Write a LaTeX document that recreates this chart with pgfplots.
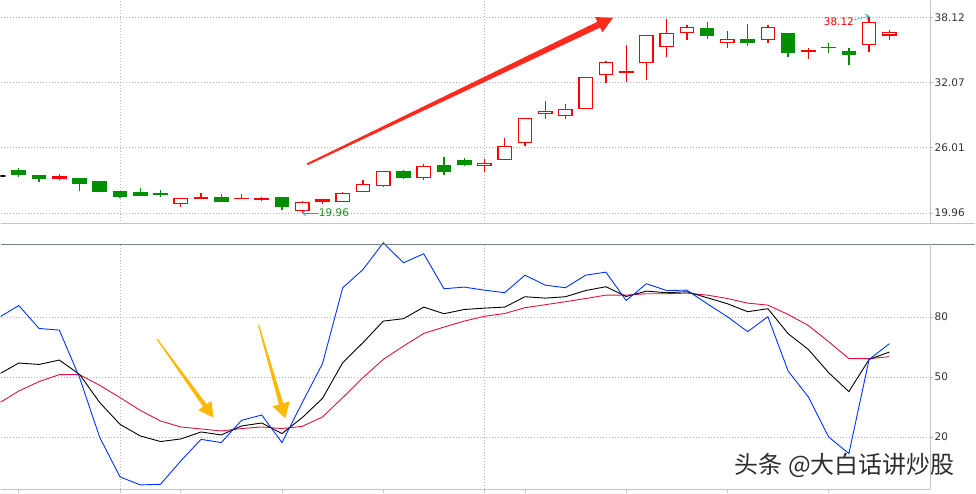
\documentclass[border=0pt]{standalone}
\usepackage{fontspec}
\setmainfont{DejaVu Sans}
\newfontfamily\cjk{Noto Sans CJK SC}
\usepackage{pgfplots}
\pgfplotsset{compat=1.18}
\usepackage{pgfplotstable}
\usepgfplotslibrary{statistics}
\usetikzlibrary{arrows.meta}

\definecolor{candleup}{HTML}{FF0000}
\definecolor{candledn}{HTML}{008F00}
\definecolor{frame}{HTML}{C4C4C4}
\definecolor{slate}{HTML}{6F8594}
\definecolor{gridc}{HTML}{B4B4B4}
\definecolor{kline}{HTML}{000000}
\definecolor{dline}{HTML}{DC143C}
\definecolor{jline}{HTML}{0033FF}
\definecolor{arrowred}{HTML}{FF2A1E}
\definecolor{arrowyel}{HTML}{FFB800}
\definecolor{markteal}{HTML}{3A9AB0}
\definecolor{lowgreen}{HTML}{1E8C1E}

% daily candles: index, open, high, low, close
\pgfplotstableread{
i o h l c
0 23.39 23.39 23.39 23.39
1 23.91 24.13 23.33 23.51
2 23.39 23.39 22.86 23.14
3 23.14 23.57 23.02 23.30
4 23.11 23.11 21.99 22.68
5 22.83 22.93 21.91 21.99
6 21.91 21.97 21.38 21.54
7 21.81 22.28 21.54 21.63
8 21.72 22.09 21.44 21.66
9 20.86 21.32 20.55 21.32
10 21.29 21.81 21.29 21.35
11 21.35 21.72 20.98 21.07
12 21.29 21.72 21.29 21.32
13 21.20 21.44 21.07 21.26
14 21.35 21.44 20.27 20.55
15 20.21 21.07 19.96 20.95
16 21.01 21.17 20.83 21.17
17 21.04 21.91 21.04 21.78
18 21.97 23.02 21.97 22.62
19 22.53 23.82 22.40 23.82
20 23.82 23.94 23.11 23.23
21 23.23 24.47 23.02 24.28
22 24.31 25.15 23.51 23.79
23 24.78 25.06 24.35 24.50
24 24.35 24.93 23.79 24.56
25 24.90 26.91 24.90 26.14
26 26.48 28.73 26.17 28.73
27 29.16 30.34 28.70 29.38
28 28.98 30.03 28.67 29.56
29 29.66 32.53 29.66 32.53
30 32.81 34.01 32.04 33.92
31 32.99 35.53 32.13 33.09
32 33.92 36.42 32.31 36.42
33 35.40 37.97 34.45 36.61
34 36.70 37.44 35.96 37.16
35 37.07 37.72 36.11 36.39
36 35.77 36.82 35.28 36.05
37 36.05 37.47 35.46 35.83
38 36.02 37.38 35.74 37.16
39 36.61 36.61 34.45 34.82
40 34.94 35.28 34.26 35.00
41 35.34 35.77 34.82 35.28
42 34.88 35.22 33.64 34.63
43 35.59 38.12 34.91 37.63
44 36.48 36.97 36.02 36.70
}\candles

% KDJ indicator
\pgfplotstableread{
i K D J
0 51.3 36.8 79.7
1 57.0 43.0 85.8
2 56.3 47.7 74.3
3 58.5 51.2 73.5
4 51.3 51.2 49.7
5 37.2 45.8 19.7
6 26.3 39.7 0.0
7 20.5 33.3 -4.0
8 17.7 28.0 -3.7
9 19.0 25.0 8.0
10 22.5 24.0 18.8
11 21.0 23.0 17.2
12 25.5 24.2 28.3
13 27.0 25.0 31.0
14 21.7 24.2 17.2
15 29.7 25.3 37.2
16 39.3 30.0 56.7
17 57.2 39.7 94.7
18 67.2 49.7 103.8
19 78.0 58.8 117.2
20 79.2 65.5 107.2
21 85.0 71.8 111.7
22 81.7 75.0 94.2
23 83.8 78.0 95.0
24 84.5 80.4 93.5
25 85.0 81.8 92.2
26 90.2 84.7 101.0
27 89.5 86.2 96.0
28 90.2 87.7 94.7
29 93.3 89.3 101.0
30 95.2 91.0 102.5
31 90.3 91.0 88.3
32 93.0 91.7 96.7
33 92.2 91.7 93.3
34 92.7 92.0 93.5
35 89.7 91.0 86.7
36 86.7 89.3 80.2
37 82.7 87.0 72.7
38 84.2 86.0 80.2
39 71.7 81.3 53.0
40 63.8 75.8 40.0
41 52.2 67.7 20.0
42 42.7 59.2 11.7
43 58.8 59.2 58.8
44 62.5 60.2 66.7
}\kdj

% tapered arrow: x1 y1 x2 y2 tail-hw shaft-hw head-hw head-len colour
\newcommand{\taper}[9]{%
  \pgfmathsetmacro{\tang}{atan2(#4-#2,#3-#1)}%
  \pgfmathsetmacro{\tlen}{veclen(#3-#1,#4-#2)}%
  \pgfmathsetmacro{\tbase}{\tlen-#8}%
  \fill[#9, shift={(#1,#2)}, rotate=\tang] (0,-#5) -- (\tbase,-#6) -- (\tbase,-#7)
    -- (\tlen,0) -- (\tbase,#7) -- (\tbase,#6) -- (0,#5) -- cycle;}

\pgfplotsset{
  kstyle/.style={
    scale only axis, width=931pt, anchor=south west,
    xmin=0.1, xmax=46.03,
    axis line style={draw=none},
    xtick=\empty,
    ytick pos=right, yticklabel pos=right,
    tick align=outside, major tick length=3pt,
    tick style={frame, line width=0.8pt},
    ymajorgrids,
    major grid style={gridc, line width=0.8pt, dash pattern=on 1pt off 2pt},
    yticklabel style={font=\fontsize{10.5}{12}\selectfont, text=black!80, inner sep=1pt},
  },
}

\begin{document}
\begin{tikzpicture}[x=1pt, y=1pt]

% vertical grid lines at days 6 and 24 (behind the plots)
\draw[gridc, line width=0.8pt, dash pattern=on 1pt off 2pt]
  (119.59,269.7) -- (119.59,493) (484.45,269.7) -- (484.45,493)
  (119.59,3.7) -- (119.59,248.7) (484.45,3.7) -- (484.45,248.7);

% price panel (placement offset measured from earlier renders)
\begin{axis}[kstyle,
  at={(0,249.2)}, height=223.3pt,
  ymin=18.91, ymax=39.60,
  ytick={19.96,26.01,32.07,38.12},
  yticklabels={19.96,26.01,32.07,38.12},
  boxplot/draw direction=y,
]
\pgfplotsinvokeforeach{0,...,44}{%
  \pgfplotstablegetelem{#1}{o}\of\candles \let\cO\pgfplotsretval
  \pgfplotstablegetelem{#1}{h}\of\candles \let\cH\pgfplotsretval
  \pgfplotstablegetelem{#1}{l}\of\candles \let\cL\pgfplotsretval
  \pgfplotstablegetelem{#1}{c}\of\candles \let\cC\pgfplotsretval
  \pgfmathsetmacro{\cLo}{min(\cO,\cC)}%
  \pgfmathsetmacro{\cHi}{max(\cO,\cC)}%
  \pgfmathtruncatemacro{\cT}{\cC>\cO ? 1 : (\cC<\cO ? 2 : 0)}%
  \ifcase\cT \def\cCol{black}\def\cFill{black}%
  \or \def\cCol{candleup}\def\cFill{white}%
  \or \def\cCol{candledn}\def\cFill{candledn}\fi
  \edef\doplot{\noexpand\addplot[draw=\cCol, fill=\cFill, line width=1.3pt,
    boxplot prepared={draw direction=y, draw position=#1, lower whisker=\cL, lower quartile=\cLo,
      median=\cLo, upper quartile=\cHi, upper whisker=\cH,
      box extend=0.66, whisker extend=0}] coordinates {};}%
  \doplot
}
\end{axis}

% KDJ panel
\begin{axis}[kstyle,
  at={(0,3)}, height=245pt,
  ymin=-5, ymax=117.5,
  ytick={20,50,80}, yticklabels={20,50,80},
]
\addplot[dline, line width=0.9pt] table[x=i, y=D] {\kdj};
\addplot[kline, line width=0.9pt] table[x=i, y=K] {\kdj};
\addplot[jline, line width=0.9pt] table[x=i, y=J] {\kdj};
\end{axis}

% panel frames and bottom ticks (days 1,6,9,14,19,24,26,31,36,41)
\draw[frame, line width=1pt] (0,269.7) -- (976,269.7);
\draw[frame, line width=1pt] (931,269.7) -- (931,493);
\draw[slate, line width=1.2pt] (0,248.7) -- (976,248.7);
\draw[frame, line width=1pt] (931,3.7) -- (931,248.7);
\draw[frame, line width=1pt] (0,3.7) -- (931,3.7);
\foreach \xx in {18.24,119.59,180.40,281.75,383.10,484.45,524.99,626.34,727.69,829.04}
  \draw[frame, line width=0.8pt] (\xx,3.7) -- (\xx,0);

% extreme price marks
\draw[markteal, line width=0.8pt, -{Straight Barb[length=3pt,width=6pt]}] (318,280.3) -- (302,280.3);
\node[anchor=west, inner sep=0, font=\fontsize{10.5}{12}\selectfont, text=lowgreen] at (318.5,280.3) {19.96};
\draw[markteal, line width=0.8pt, dash pattern=on 2pt off 1pt, -{Straight Barb[length=3pt,width=6pt]}] (855,473.7) -- (870,477.3);
\node[anchor=east, inner sep=0, font=\fontsize{10.5}{12}\selectfont, text=candleup] at (854.5,472) {38.12};

% hand-drawn arrows
\taper{307}{329}{613.3}{475.7}{1}{3.2}{8.5}{16}{arrowred}
\taper{156.7}{154}{213.3}{75.3}{0.6}{2.2}{8}{15}{arrowyel}
\taper{258.3}{168}{285}{74.7}{0.6}{2.2}{9}{15}{arrowyel}

% watermark
\node[anchor=west, inner sep=0, font=\cjk\fontsize{24}{24}\selectfont, text=black!82] at (735,27) {头条 @大白话讲炒股};

\useasboundingbox (0,0) rectangle (976,493);
\end{tikzpicture}
\end{document}
